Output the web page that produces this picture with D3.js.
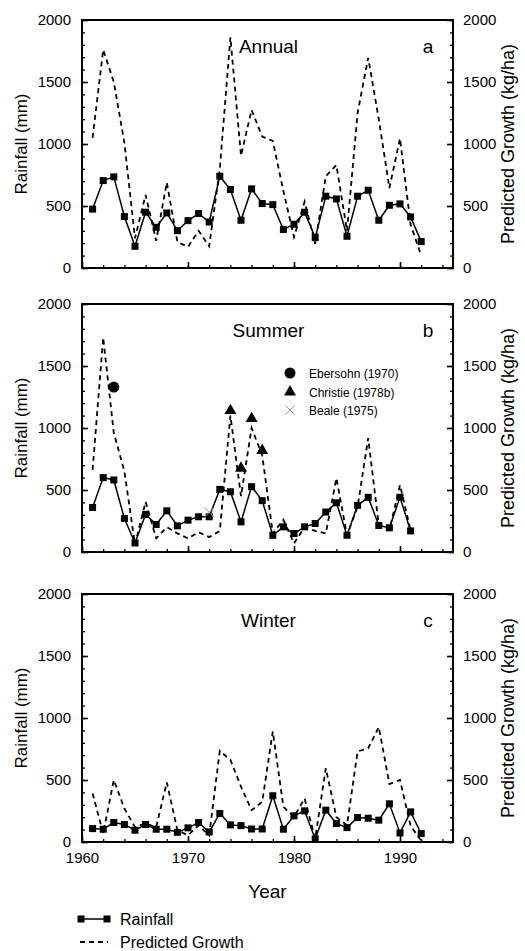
<!DOCTYPE html>
<html>
<head>
<meta charset="utf-8">
<script src="https://cdn.jsdelivr.net/npm/d3@7"></script>
<style>
  html, body { margin: 0; padding: 0; background: #fff; }
  svg { display: block; font-family: "Liberation Sans", Arial, Helvetica, sans-serif; }
</style>
</head>
<body>
<svg id="chart" width="525" height="951"></svg>
<script>
// Years of record
const years = [1961,1962,1963,1964,1965,1966,1967,1968,1969,1970,1971,1972,1973,1974,1975,1976,
               1977,1978,1979,1980,1981,1982,1983,1984,1985,1986,1987,1988,1989,1990,1991,1992];

// Annual rainfall (mm) and predicted growth (kg/ha)
const annualRain   = [475,705,735,415,175,450,328,444,301,382,439,371,740,633,385,638,
                      520,511,310,353,450,245,579,557,256,579,627,385,506,517,412,213];
const annualGrowth = [1050,1760,1500,1010,240,590,220,690,210,170,300,175,800,1860,905,1275,
                      1060,1025,620,250,535,195,740,830,300,1250,1695,1200,645,1045,350,100];

// Summer season (1961-1991)
const summerRain   = [359,600,581,270,73,303,222,332,211,257,284,284,505,486,243,527,
                      414,135,203,149,203,230,322,397,135,376,441,214,195,441,170];
const summerGrowth = [662,1730,960,650,60,405,110,200,150,110,160,120,170,1100,450,1000,
                      780,150,260,70,200,170,150,595,135,365,919,216,176,540,175];

// Winter season
const winterRain   = [108,103,157,141,95,141,103,103,78,114,157,81,230,138,132,105,
                      105,373,103,211,251,25,257,149,116,197,192,176,308,73,243,68];
const winterGrowth = [392,68,500,270,120,150,120,481,95,54,135,54,735,662,446,257,
                      324,892,284,203,351,27,595,200,135,730,757,927,468,500,130,10];

// Measured summer yields from earlier studies
const ebersohnYears = [1963];
const ebersohnValues = [1330];
const christieYears = [1974,1975,1976,1977];
const christieValues = [1140,676,1076,819];
const bealeYears = [1972];
const bealeValues = [320];

const panelTitles = ["Annual","Summer","Winter"];
const panelLetters = ["a","b","c"];
const yTicks = [0,500,1000,1500,2000];
const xTicks = [1960,1970,1980,1990];

const svg = d3.select("#chart");
const left = 82, right = 453, ph = 248;
const tops = [20, 304, 594];

const x = d3.scaleLinear().domain([1960,1995]).range([left,right]);

const panels = [
  {rain: annualRain, growth: annualGrowth},
  {rain: summerRain, growth: summerGrowth},
  {rain: winterRain, growth: winterGrowth}
];

const minorY = d3.range(0, 2001, 100);
const minorX = d3.range(1960, 1996, 2);

panels.forEach((p, i) => {
  const top = tops[i];
  const y = d3.scaleLinear().domain([0,2000]).range([top+ph, top]);
  const g = svg.append("g");

  // inward minor and major ticks, left
  g.append("g").attr("transform", `translate(${left},0)`)
    .call(d3.axisLeft(y).tickValues(minorY).tickSize(-3).tickFormat(""))
    .call(a => a.select(".domain").remove())
    .selectAll("line").attr("stroke-width", 1.3);
  g.append("g").attr("transform", `translate(${left},0)`)
    .call(d3.axisLeft(y).tickValues(yTicks).tickSize(-6).tickPadding(11).tickFormat(d3.format("d")))
    .call(a => a.select(".domain").remove())
    .call(a => a.selectAll("line").attr("stroke-width", 1.6))
    .call(a => a.selectAll("text").attr("font-size", 15).attr("font-family", null).attr("fill", "#000"));

  // right axis
  g.append("g").attr("transform", `translate(${right},0)`)
    .call(d3.axisRight(y).tickValues(minorY).tickSize(-3).tickFormat(""))
    .call(a => a.select(".domain").remove())
    .selectAll("line").attr("stroke-width", 1.3);
  g.append("g").attr("transform", `translate(${right},0)`)
    .call(d3.axisRight(y).tickValues(yTicks).tickSize(-6).tickPadding(10).tickFormat(d3.format("d")))
    .call(a => a.select(".domain").remove())
    .call(a => a.selectAll("line").attr("stroke-width", 1.6))
    .call(a => a.selectAll("text").attr("font-size", 15).attr("font-family", null).attr("fill", "#000"));

  // bottom axis
  g.append("g").attr("transform", `translate(0,${top+ph})`)
    .call(d3.axisBottom(x).tickValues(minorX).tickSize(-3).tickFormat(""))
    .call(a => a.select(".domain").remove())
    .selectAll("line").attr("stroke-width", 1.3);
  g.append("g").attr("transform", `translate(0,${top+ph})`)
    .call(d3.axisBottom(x).tickValues(xTicks).tickSize(-6).tickPadding(10)
      .tickFormat(i === 2 ? d3.format("d") : ""))
    .call(a => a.select(".domain").remove())
    .call(a => a.selectAll("line").attr("stroke-width", 1.6))
    .call(a => a.selectAll("text").attr("font-size", 15).attr("font-family", null).attr("fill", "#000"));

  // frame
  g.append("rect").attr("x", left).attr("y", top).attr("width", right-left).attr("height", ph)
    .attr("fill", "none").attr("stroke", "#000").attr("stroke-width", 2);

  // predicted growth (dashed)
  const pts = (vals) => vals.map((v, k) => [years[k], v]);
  const line = d3.line().x(d => x(d[0])).y(d => y(d[1]));
  g.append("path").datum(pts(p.growth)).attr("d", line)
    .attr("fill", "none").attr("stroke", "#000").attr("stroke-width", 1.8)
    .attr("stroke-dasharray", "5,4");

  // rainfall (solid with squares)
  g.append("path").datum(pts(p.rain)).attr("d", line)
    .attr("fill", "none").attr("stroke", "#000").attr("stroke-width", 1.5);
  g.selectAll("rect.pt").data(pts(p.rain)).enter().append("rect")
    .attr("class", "pt")
    .attr("x", d => x(d[0]) - 3.5).attr("y", d => y(d[1]) - 3.5)
    .attr("width", 7).attr("height", 7).attr("fill", "#000");

  // titles
  g.append("text").attr("x", (left+right)/2 + 1).attr("y", top + 33)
    .attr("text-anchor", "middle").attr("font-size", 19).text(panelTitles[i]);
  g.append("text").attr("x", 428).attr("y", top + 33)
    .attr("text-anchor", "middle").attr("font-size", 19).text(panelLetters[i]);

  // axis labels
  g.append("text").attr("transform", `translate(27,${top+ph/2}) rotate(-90)`)
    .attr("text-anchor", "middle").attr("font-size", 17).text("Rainfall (mm)");
  g.append("text").attr("transform", `translate(514,${top+ph/2}) rotate(-90)`)
    .attr("text-anchor", "middle").attr("font-size", 18).text("Predicted Growth (kg/ha)");

  if (i === 1) {
    // measured yields
    g.selectAll("circle.eb").data(ebersohnYears.map((yr, k) => [yr, ebersohnValues[k]]))
      .enter().append("circle").attr("cx", d => x(d[0])).attr("cy", d => y(d[1]))
      .attr("r", 5.5).attr("fill", "#000");
    const tri = d3.symbol().type(d3.symbolTriangle).size(62);
    g.selectAll("path.ch").data(christieYears.map((yr, k) => [yr, christieValues[k]]))
      .enter().append("path").attr("d", tri)
      .attr("transform", d => `translate(${x(d[0])},${y(d[1])})`).attr("fill", "#000");
    const cross = d3.symbol().type(d3.symbolX).size(60);
    g.selectAll("path.be").data(bealeYears.map((yr, k) => [yr, bealeValues[k]]))
      .enter().append("path").attr("d", cross)
      .attr("transform", d => `translate(${x(d[0])},${y(d[1])})`)
      .attr("fill", "none").attr("stroke", "#999").attr("stroke-width", 1);

    // key for the measured yields
    const kx = 290, ky = [373, 392, 410];
    g.append("circle").attr("cx", kx).attr("cy", ky[0]).attr("r", 5.5).attr("fill", "#000");
    g.append("path").attr("d", tri).attr("transform", `translate(${kx},${ky[1]})`).attr("fill", "#000");
    g.append("path").attr("d", cross).attr("transform", `translate(${kx},${ky[2]})`)
      .attr("fill", "none").attr("stroke", "#999").attr("stroke-width", 1);
    const names = ["Ebersohn (1970)", "Christie (1978b)", "Beale (1975)"];
    names.forEach((n, k) => {
      g.append("text").attr("x", 309).attr("y", ky[k] + 4.5).attr("font-size", 12).text(n);
    });
  }
});

// x-axis title
svg.append("text").attr("x", (left+right)/2).attr("y", 898)
  .attr("text-anchor", "middle").attr("font-size", 19).text("Year");

// series key
const lg = svg.append("g");
lg.append("line").attr("x1", 81).attr("x2", 107).attr("y1", 919).attr("y2", 919)
  .attr("stroke", "#000").attr("stroke-width", 1.5);
[81, 107].forEach(px => lg.append("rect").attr("x", px-3.5).attr("y", 915.5)
  .attr("width", 7).attr("height", 7).attr("fill", "#000"));
lg.append("text").attr("x", 120).attr("y", 925).attr("font-size", 16).text("Rainfall");
lg.append("line").attr("x1", 80).attr("x2", 108).attr("y1", 942).attr("y2", 942)
  .attr("stroke", "#000").attr("stroke-width", 1.8).attr("stroke-dasharray", "5,4");
lg.append("text").attr("x", 120).attr("y", 948).attr("font-size", 16).text("Predicted Growth");
</script>
</body>
</html>
